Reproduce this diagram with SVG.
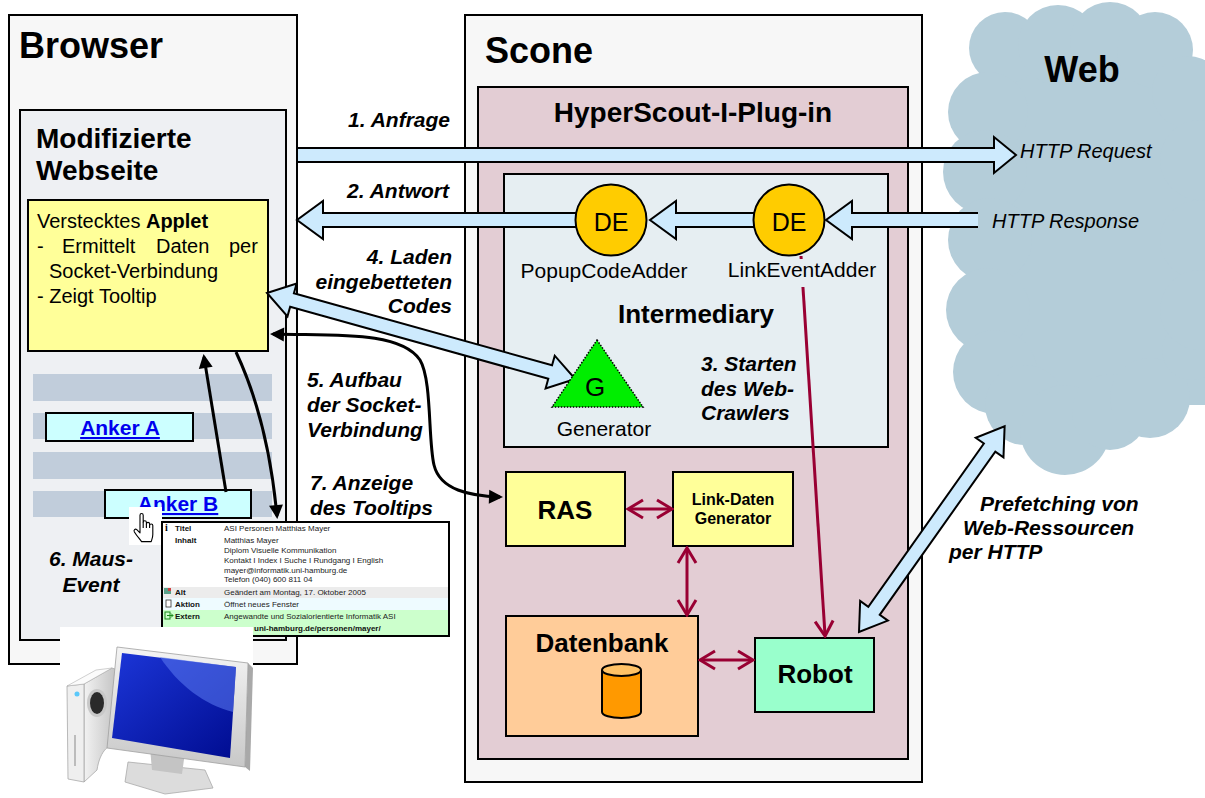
<svg xmlns="http://www.w3.org/2000/svg" width="1205" height="798" viewBox="0 0 1205 798">
  <defs>
    <style>
      text { font-family: "Liberation Sans", Arial, sans-serif; fill: #000; }
      .frame { stroke: #000; stroke-width: 2; }
      .pipe { fill: #cdeafd; stroke: #000; stroke-width: 2; }
      .lbl { font-weight: bold; font-style: italic; font-size: 21px; }
      .web { font-style: italic; font-size: 20px; }
      .red { stroke: #990033; stroke-width: 3; fill: none; }
      .blk { stroke: #000; stroke-width: 3; fill: none; }
      .tt { font-size: 8px; fill: #222; }
      .ttb { font-size: 8px; font-weight: bold; fill: #111; }
      .stripe { fill: #c1cddb; }
      .anchor { font-size: 21px; font-weight: bold; fill: #0000ee; text-decoration: underline; text-anchor: middle; }
      .cloud circle, .cloud rect { fill: #b4cdd9; }
    </style>
    <marker id="redHead" markerUnits="userSpaceOnUse" viewBox="-18 -11 20 22" refX="-1" refY="0" markerWidth="20" markerHeight="22" orient="auto-start-reverse">
      <path d="M-15,-9 L0,0 L-15,9" fill="none" stroke="#990033" stroke-width="3"/>
    </marker>
    <marker id="blkHead" markerUnits="userSpaceOnUse" viewBox="-15 -8 16 16" refX="-3" refY="0" markerWidth="16" markerHeight="16" orient="auto-start-reverse">
      <path d="M-14,-7 L0,0 L-14,7 Z" fill="#000"/>
    </marker>
    <linearGradient id="screenGrad" x1="0" y1="0" x2="1" y2="1">
      <stop offset="0" stop-color="#1c36d8"/>
      <stop offset="1" stop-color="#000c90"/>
    </linearGradient>
    <linearGradient id="greyGrad" x1="0" y1="0" x2="1" y2="0">
      <stop offset="0" stop-color="#f2f2f2"/>
      <stop offset="1" stop-color="#b9b9b9"/>
    </linearGradient>
    <linearGradient id="frameGrad" x1="0" y1="0" x2="0" y2="1">
      <stop offset="0" stop-color="#f4f4f4"/>
      <stop offset="1" stop-color="#c8c8c8"/>
    </linearGradient>
  </defs>

  <rect width="1205" height="798" fill="#fff"/>

  <!-- Web cloud -->
  <g id="web" class="cloud">
    <rect x="990" y="60" width="215" height="345"/>
    <circle cx="1005" cy="48" r="36"/>
    <circle cx="1058" cy="45" r="40"/>
    <circle cx="1110" cy="42" r="40"/>
    <circle cx="1155" cy="50" r="38"/>
    <circle cx="1188" cy="92" r="36"/>
    <circle cx="988" cy="112" r="40"/>
    <circle cx="985" cy="172" r="42"/>
    <circle cx="990" cy="240" r="42"/>
    <circle cx="988" cy="310" r="42"/>
    <circle cx="995" cy="372" r="42"/>
    <circle cx="1025" cy="405" r="40"/>
    <circle cx="1065" cy="430" r="45"/>
    <circle cx="1110" cy="412" r="38"/>
    <circle cx="1150" cy="398" r="40"/>
    <circle cx="1192" cy="350" r="30"/>
    <circle cx="1200" cy="160" r="40"/>
    <circle cx="1200" cy="240" r="40"/>
    <circle cx="1200" cy="310" r="40"/>
    <text x="1082" y="82" font-size="36" font-weight="bold" text-anchor="middle">Web</text>
    <text class="web" x="1020" y="158">HTTP Request</text>
    <text class="web" x="992" y="228">HTTP Response</text>
  </g>

  <!-- Browser -->
  <g id="browser">
    <rect class="frame" x="9" y="15" width="288" height="649" fill="#f7f7f7"/>
    <text x="19" y="58" font-size="36" font-weight="bold">Browser</text>
  </g>

  <g id="webpage">
    <rect class="frame" x="20" y="110" width="266" height="530" fill="#eef0f3"/>
    <text x="36" y="148" font-size="28" font-weight="bold">Modifizierte</text>
    <text x="36" y="180" font-size="28" font-weight="bold">Webseite</text>
    <rect class="stripe" x="33" y="374" width="239" height="27"/>
    <rect class="stripe" x="33" y="413" width="239" height="26"/>
    <rect class="stripe" x="33" y="452" width="239" height="27"/>
    <rect class="stripe" x="33" y="491" width="239" height="26"/>
  </g>

  <g id="applet">
    <rect class="frame" x="28" y="200" width="240" height="151" fill="#ffff99"/>
    <text x="37" y="228" font-size="20">Verstecktes <tspan font-weight="bold">Applet</tspan></text>
    <text x="37" y="253" font-size="20">-</text>
    <text x="62" y="253" font-size="20">Ermittelt</text>
    <text x="156" y="253" font-size="20">Daten</text>
    <text x="229" y="253" font-size="20">per</text>
    <text x="49" y="278" font-size="20">Socket-Verbindung</text>
    <text x="37" y="303" font-size="20">- Zeigt Tooltip</text>
  </g>

  <g id="anker-a">
    <rect class="frame" x="46" y="413" width="147" height="28" fill="#ccffff"/>
    <text class="anchor" x="120" y="435">Anker A</text>
  </g>

  <g id="anker-b">
    <rect class="frame" x="105" y="490" width="146" height="28" fill="#ccffff"/>
    <text class="anchor" x="178" y="511">Anker B</text>
  </g>

  <!-- mouse pointer -->
  <g id="pointer">
    <rect x="129" y="507" width="33" height="38" fill="#fff"/>
    <g transform="translate(132,512) scale(1.6)" fill="#fff" stroke="#000" stroke-width="0.7" stroke-linejoin="round">
      <path d="M5,10 V2 C5,0.6 7,0.6 7,2 V6.5 C7,5.1 9,5.1 9,6.5 V7.5 C9,6.1 11,6.1 11,7.5 V8.5 C11,7.2 13,7.2 13,8.5 V14 C13,16 12.5,17 12,18.5 H6 C5,17 3,15 1.5,12.5 C0.8,11.2 2,10.3 3,11 L5,13 Z"/>
      <path d="M7,6.5 V10 M9,7.5 V10 M11,8.5 V10" fill="none"/>
    </g>
  </g>

  <!-- tooltip -->
  <g id="tooltip">
    <rect class="frame" x="162" y="522" width="287" height="114" fill="#fff"/>
    <rect x="163" y="587" width="285" height="11" fill="#ececec"/>
    <rect x="163" y="598" width="285" height="12" fill="#eefbff"/>
    <rect x="163" y="610" width="285" height="25" fill="#ccffcc"/>
    <text x="165" y="531" font-size="10" font-weight="bold" fill="#2040c0" style="font-family:'Liberation Serif',serif">i</text>
    <text class="ttb" x="175" y="531">Titel</text>
    <text class="tt" x="224" y="531">ASI Personen Matthias Mayer</text>
    <text class="ttb" x="175" y="543">Inhalt</text>
    <text class="tt" x="224" y="543">Matthias Mayer</text>
    <text class="tt" x="224" y="553">Diplom Visuelle Kommunikation</text>
    <text class="tt" x="224" y="563">Kontakt I Index I Suche I Rundgang I English</text>
    <text class="tt" x="224" y="573">mayer@informatik.uni-hamburg.de</text>
    <text class="tt" x="224" y="582">Telefon (040) 600 811 04</text>
    <rect x="164" y="588" width="7" height="6" fill="#5aa08a"/>
    <rect x="168" y="588" width="3" height="3" fill="#d04040"/>
    <text class="ttb" x="175" y="595">Alt</text>
    <text class="tt" x="224" y="595">Geändert am Montag, 17. Oktober 2005</text>
    <rect x="166" y="600" width="5" height="7" fill="#fff" stroke="#333" stroke-width="0.8"/>
    <text class="ttb" x="175" y="607">Aktion</text>
    <text class="tt" x="224" y="607">Öffnet neues Fenster</text>
    <rect x="165" y="612" width="5" height="7" fill="none" stroke="#1a8a1a" stroke-width="1"/>
    <path d="M167,615.5 H173 M171,613.5 L173,615.5 L171,617.5" fill="none" stroke="#1a8a1a" stroke-width="1"/>
    <text class="ttb" x="175" y="619">Extern</text>
    <text class="tt" x="224" y="619">Angewandte und Sozialorientierte Informatik ASI</text>
    <text class="ttb" x="254" y="631" fill="#1a2a80">uni-hamburg.de/personen/mayer/</text>
  </g>

  <!-- Scone -->
  <g id="scone">
    <rect class="frame" x="465" y="15" width="457" height="767" fill="#f7f7f7"/>
    <text x="485" y="63" font-size="36" font-weight="bold">Scone</text>
  </g>

  <g id="hyperscout">
    <rect class="frame" x="478" y="87" width="430" height="672" fill="#e3cdd4"/>
    <text x="693" y="122" font-size="28" font-weight="bold" text-anchor="middle">HyperScout-I-Plug-in</text>
  </g>

  <g id="intermediary">
    <rect class="frame" x="504" y="174" width="384" height="273" fill="#e6eef2"/>
    <text x="696" y="323" font-size="26" font-weight="bold" text-anchor="middle">Intermediary</text>
  </g>

  <g id="ras">
    <rect class="frame" x="506" y="472" width="119" height="74" fill="#ffff99"/>
    <text x="565" y="519" font-size="26" font-weight="bold" text-anchor="middle">RAS</text>
  </g>

  <g id="link-daten-generator">
    <rect class="frame" x="673" y="472" width="120" height="74" fill="#ffff99"/>
    <text x="733" y="505" font-size="16" font-weight="bold" text-anchor="middle">Link-Daten</text>
    <text x="733" y="524" font-size="16" font-weight="bold" text-anchor="middle">Generator</text>
  </g>

  <g id="datenbank">
    <rect class="frame" x="506" y="616" width="192" height="120" fill="#ffcc99"/>
    <text x="602" y="652" font-size="26" font-weight="bold" text-anchor="middle">Datenbank</text>
    <path d="M602,670 V712 A19.5,6 0 0 0 641,712 V670" fill="#ff9900" stroke="#000" stroke-width="2"/>
    <ellipse cx="621.5" cy="670" rx="19.5" ry="6" fill="#ffc266" stroke="#000" stroke-width="2"/>
  </g>

  <g id="robot">
    <rect class="frame" x="755" y="638" width="119" height="74" fill="#99ffcc"/>
    <text x="815" y="683" font-size="26" font-weight="bold" text-anchor="middle">Robot</text>
  </g>

  <!-- connectors -->
  <g id="connectors">
    <!-- request / response pipes -->
    <path class="pipe" d="M298,148 H994 V137 L1016,155 L994,173 V162 H298"/>
    <path class="pipe" d="M580,213 H323 V201 L297,220 L323,239 V227 H580"/>
    <path class="pipe" d="M756,213 H676 V201 L650,220 L676,239 V227 H756"/>
    <path class="pipe" d="M978,213 H852 V201 L826,220 L852,239 V227 H978"/>
    <!-- embedded code load -->
    <g transform="translate(267,293) rotate(15.6)">
      <polygon class="pipe" points="0,0 26,-17 26,-7 294,-7 294,-17 320,0 294,17 294,7 26,7 26,17"/>
    </g>
    <!-- prefetching -->
    <g transform="translate(859,632) rotate(-54.7)">
      <polygon class="pipe" points="0,0 26,-17 26,-7 226,-7 226,-17 252,0 226,17 226,7 26,7 26,17"/>
    </g>
    <!-- socket connection -->
    <path class="blk" d="M273,334 C330,336 400,330 420,360 C432,380 428,440 434,465 C440,490 470,496 500,497" marker-start="url(#blkHead)" marker-end="url(#blkHead)"/>
    <!-- mouse event / tooltip display -->
    <path class="blk" d="M226,492 Q214,420 204,357" marker-end="url(#blkHead)"/>
    <path class="blk" d="M236,352 Q268,420 277,516" marker-end="url(#blkHead)"/>
    <!-- crawler start -->
    <path class="red" d="M801,256 L825,635" marker-end="url(#redHead)"/>
    <!-- data flows -->
    <path class="red" d="M629,509 H671" marker-start="url(#redHead)" marker-end="url(#redHead)"/>
    <path class="red" d="M687,549 V614" marker-start="url(#redHead)" marker-end="url(#redHead)"/>
    <path class="red" d="M701,660 H752" marker-start="url(#redHead)" marker-end="url(#redHead)"/>
  </g>

  <!-- decision elements and generator -->
  <g id="popupcodeadder">
    <circle cx="611" cy="220" r="35.5" fill="#ffcc00" stroke="#000" stroke-width="2"/>
    <text x="611" y="231" font-size="25" text-anchor="middle">DE</text>
    <text x="604" y="278" font-size="21" text-anchor="middle">PopupCodeAdder</text>
  </g>

  <g id="linkeventadder">
    <circle cx="789" cy="220" r="35.5" fill="#ffcc00" stroke="#000" stroke-width="2"/>
    <text x="789" y="231" font-size="25" text-anchor="middle">DE</text>
    <rect x="727" y="259" width="150" height="28" fill="#e6eef2"/>
    <text x="802" y="277" font-size="21" text-anchor="middle">LinkEventAdder</text>
  </g>

  <g id="generator">
    <polygon points="597,340 643,407 552,407" fill="#00ee00" stroke="#000" stroke-width="1.5" stroke-dasharray="1.5,1.5"/>
    <text x="595" y="396" font-size="26" text-anchor="middle">G</text>
    <text x="604" y="436" font-size="21" text-anchor="middle">Generator</text>
  </g>

  <!-- step labels -->
  <g id="labels">
    <text class="lbl" x="450" y="127" text-anchor="end">1. Anfrage</text>
    <text class="lbl" x="449" y="198" text-anchor="end">2. Antwort</text>
    <text class="lbl" x="452" y="264" text-anchor="end">4. Laden</text>
    <text class="lbl" x="452" y="289" text-anchor="end">eingebetteten</text>
    <text class="lbl" x="452" y="313" text-anchor="end">Codes</text>
    <text class="lbl" x="701" y="371">3. Starten</text>
    <text class="lbl" x="701" y="396">des Web-</text>
    <text class="lbl" x="701" y="420">Crawlers</text>
    <text class="lbl" x="307" y="387">5. Aufbau</text>
    <text class="lbl" x="307" y="412">der Socket-</text>
    <text class="lbl" x="307" y="437">Verbindung</text>
    <text class="lbl" x="310" y="490">7. Anzeige</text>
    <text class="lbl" x="310" y="515">des Tooltips</text>
    <text class="lbl" x="91" y="566" text-anchor="middle">6. Maus-</text>
    <text class="lbl" x="91" y="592" text-anchor="middle">Event</text>
    <text class="lbl" x="980" y="511">Prefetching von</text>
    <text class="lbl" x="963" y="535">Web-Ressourcen</text>
    <text class="lbl" x="949" y="559">per HTTP</text>
  </g>

  <!-- client computer -->
  <g id="computer">
    <rect x="60" y="627" width="193" height="171" fill="#fff"/>
    <path d="M84,684 L112,668 L123,672 L123,745 C110,741 100,750 97,770 L84,782 Z" fill="url(#greyGrad)" stroke="#a8a8a8" stroke-width="0.8"/>
    <path d="M67,686 L84,684 L84,782 L68,779 Z" fill="#efefef" stroke="#a8a8a8" stroke-width="0.8"/>
    <path d="M67,686 L96,670 L112,668 L84,684 Z" fill="#fbfbfb" stroke="#b0b0b0" stroke-width="0.6"/>
    <ellipse cx="97" cy="703" rx="10" ry="14" fill="#c8c8c8"/>
    <ellipse cx="97" cy="703" rx="7" ry="11" fill="#2a2a2a"/>
    <circle cx="77" cy="694" r="2.5" fill="#5ac8fa"/>
    <path d="M75,735 V766" stroke="#999" stroke-width="1.2"/>
    <path d="M128,762 L205,770 L213,788 L165,794 L125,782 Z" fill="#dcdcdc" stroke="#aaa" stroke-width="0.8"/>
    <path d="M150,748 L185,752 L182,774 L152,770 Z" fill="#c4c4c4"/>
    <path d="M248,663 L253,668 L250,771 L245,767 Z" fill="#a9a9a9"/>
    <path d="M117,647 L248,663 L245,767 L107,748 Z" fill="url(#frameGrad)" stroke="#a0a0a0" stroke-width="0.8"/>
    <path d="M122,653 L236,667 L230,758 L112,738 Z" fill="url(#screenGrad)"/>
    <path d="M160,657 L236,667 L233,712 C205,705 178,685 160,657 Z" fill="#5c7cf2" opacity="0.55"/>
  </g>
</svg>
